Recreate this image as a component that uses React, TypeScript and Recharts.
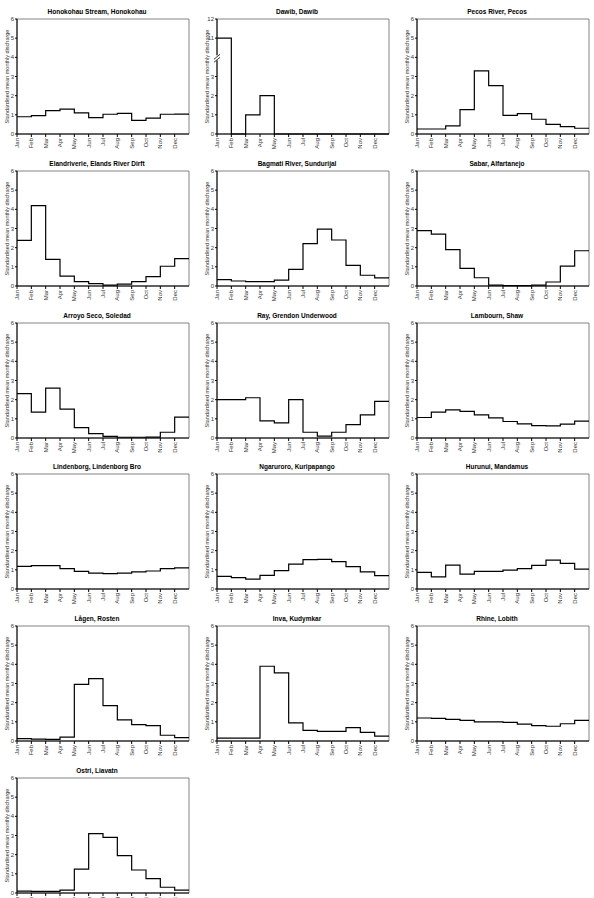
import React from "react";
import { LineChart, Line, XAxis, YAxis, ReferenceArea, ReferenceDot } from "recharts";

const MONTHS = ["Jan", "Feb", "Mar", "Apr", "May", "Jun", "Jul", "Aug", "Sep", "Oct", "Nov", "Dec"];
const MONTH_TICKS = [0, 1, 2, 3, 4, 5, 6, 7, 8, 9, 10, 11];
const DISCHARGE_TICKS = [0, 1, 2, 3, 4, 5, 6];
const DAWIB_TICKS = [0, 1, 2, 3, 11, 12];

// standardised mean monthly discharge, Jan..Dec
const honokohau = [0.9, 0.96, 1.22, 1.3, 1.1, 0.85, 1.03, 1.08, 0.71, 0.83, 1.03, 1.04];
const dawib = [11, 0, 1, 2, 0, 0, 0, 0, 0, 0, 0, 0];
const pecos = [0.26, 0.26, 0.42, 1.27, 3.29, 2.52, 0.97, 1.06, 0.77, 0.5, 0.38, 0.3];
const elandriverie = [2.38, 4.19, 1.39, 0.52, 0.23, 0.12, 0.05, 0.1, 0.23, 0.49, 1.03, 1.43];
const bagmati = [0.33, 0.26, 0.23, 0.23, 0.31, 0.87, 2.21, 2.97, 2.4, 1.08, 0.56, 0.42];
const sabar = [2.89, 2.71, 1.9, 0.92, 0.43, 0.05, 0.02, 0.02, 0.05, 0.21, 1.04, 1.84];
const arroyoSeco = [2.32, 1.35, 2.6, 1.51, 0.54, 0.23, 0.09, 0.04, 0.04, 0.05, 0.3, 1.09];
const ray = [2.0, 2.0, 2.1, 0.89, 0.79, 2.0, 0.3, 0.1, 0.3, 0.7, 1.21, 1.91];
const lambourn = [1.07, 1.35, 1.47, 1.39, 1.21, 1.05, 0.86, 0.74, 0.65, 0.63, 0.72, 0.88];
const lindenborg = [1.18, 1.22, 1.22, 1.06, 0.92, 0.83, 0.8, 0.83, 0.89, 0.94, 1.06, 1.1];
const ngaruroro = [0.66, 0.59, 0.52, 0.71, 0.96, 1.3, 1.53, 1.55, 1.43, 1.17, 0.89, 0.7];
const hurunui = [0.87, 0.63, 1.25, 0.78, 0.92, 0.92, 0.99, 1.06, 1.23, 1.51, 1.34, 1.04];
const lagen = [0.12, 0.1, 0.08, 0.2, 2.95, 3.25, 1.85, 1.1, 0.85, 0.8, 0.3, 0.18];
const inva = [0.15, 0.15, 0.15, 3.9, 3.55, 0.95, 0.55, 0.5, 0.5, 0.7, 0.45, 0.25];
const rhine = [1.2, 1.18, 1.13, 1.08, 1.0, 1.0, 0.97, 0.88, 0.8, 0.77, 0.9, 1.08];
const ostri = [0.1, 0.08, 0.08, 0.15, 1.25, 3.1, 2.9, 1.95, 1.2, 0.75, 0.3, 0.15];

const PANELS = [
  { title: "Honokohau Stream, Honokohau", values: honokohau },
  { title: "Dawib, Dawib", values: dawib, broken: true },
  { title: "Pecos River, Pecos", values: pecos },
  { title: "Elandriverie, Elands River Dirft", values: elandriverie },
  { title: "Bagmati River, Sundurijal", values: bagmati },
  { title: "Sabar, Alfartanejo", values: sabar },
  { title: "Arroyo Seco, Soledad", values: arroyoSeco },
  { title: "Ray, Grendon Underwood", values: ray },
  { title: "Lambourn, Shaw", values: lambourn },
  { title: "Lindenborg, Lindenborg Bro", values: lindenborg },
  { title: "Ngaruroro, Kuripapango", values: ngaruroro },
  { title: "Hurunui, Mandamus", values: hurunui },
  { title: "Lågen, Rosten", values: lagen },
  { title: "Inva, Kudymkar", values: inva },
  { title: "Rhine, Lobith", values: rhine },
  { title: "Ostri, Liavatn", values: ostri },
];

const Y_LABEL = "Standardised mean monthly discharge";
const PANEL_W = 200;
const PANEL_H = 152;
const ROW_STEP = 151.8;

// broken axis for Dawib: 11..12 is drawn just above 3
const squash = (v: number) => (v >= 11 ? v - 6 : v);
const unsquash = (v: number) => String(v >= 5 ? v + 6 : v);

function toSteps(values: number[], map: (v: number) => number) {
  const pts = values.map((v, i) => ({ month: i, q: map(v) }));
  // close the last step at the right edge
  pts.push({ month: 12, q: map(values[values.length - 1]) });
  return pts;
}

function MonthTick({ x, y, payload }: any) {
  return (
    <text
      transform={`translate(${x},${y}) rotate(-90)`}
      textAnchor="end"
      dominantBaseline="central"
      fontSize={6}
      fill="#333"
    >
      {MONTHS[payload.value]}
    </text>
  );
}

function BreakMark({ cx, cy }: any) {
  return (
    <g>
      <rect x={cx - 2} y={cy - 3} width={4} height={5} fill="#fff" />
      <line x1={cx - 3} y1={cy + 1} x2={cx + 3} y2={cy - 4} stroke="#000" strokeWidth={0.8} />
      <line x1={cx - 3} y1={cy + 4} x2={cx + 3} y2={cy - 1} stroke="#000" strokeWidth={0.8} />
    </g>
  );
}

function Panel({ title, values, broken, left, top }: any) {
  const map = broken ? squash : (v: number) => v;
  const ticks = broken ? DAWIB_TICKS.map(squash) : DISCHARGE_TICKS;
  return (
    <div style={{ position: "absolute", left, top, width: PANEL_W, height: PANEL_H }}>
      <div
        style={{
          position: "absolute",
          left: 0,
          top: 8,
          width: 194,
          textAlign: "center",
          fontWeight: 700,
          fontSize: 6.5,
          lineHeight: "8px",
          whiteSpace: "nowrap",
        }}
      >
        {title}
      </div>
      <LineChart
        width={PANEL_W}
        height={PANEL_H}
        data={toSteps(values, map)}
        margin={{ top: 19, right: 11, bottom: 0, left: 0 }}
      >
        <XAxis
          type="number"
          dataKey="month"
          domain={[0, 12]}
          ticks={MONTH_TICKS}
          interval={0}
          height={18}
          tickSize={3}
          tickMargin={1}
          tick={<MonthTick />}
          stroke="#000"
        />
        <YAxis
          type="number"
          domain={[0, 6]}
          ticks={ticks}
          interval={0}
          width={17}
          tickSize={2}
          tickMargin={1}
          tickFormatter={broken ? unsquash : (v: number) => String(v)}
          tick={{ fontSize: 6, fill: "#333" }}
          stroke="#000"
        />
        <ReferenceArea x1={0} x2={12} y1={0} y2={6} fill="none" stroke="#666" strokeWidth={0.8} />
        <Line
          type="stepAfter"
          dataKey="q"
          stroke="#000"
          strokeWidth={1.2}
          dot={false}
          activeDot={false}
          isAnimationActive={false}
        />
        {broken && <ReferenceDot x={0} y={3.95} ifOverflow="visible" shape={<BreakMark />} />}
      </LineChart>
      <svg width={12} height={PANEL_H} style={{ position: "absolute", left: 0, top: 0 }}>
        <text
          transform={`translate(6.5, 76.5) rotate(-90)`}
          textAnchor="middle"
          dominantBaseline="central"
          fontSize={5.5}
          fill="#333"
        >
          {Y_LABEL}
        </text>
      </svg>
    </div>
  );
}

export default function App() {
  return (
    <div
      style={{
        position: "absolute",
        left: 0,
        top: 0,
        width: 594,
        height: 898,
        overflow: "hidden",
        background: "#fff",
        fontFamily: "'Liberation Sans', Arial, sans-serif",
      }}
    >
      {PANELS.map((p, i) => (
        <Panel
          key={p.title}
          title={p.title}
          values={p.values}
          broken={p.broken}
          left={(i % 3) * PANEL_W}
          top={Math.round(Math.floor(i / 3) * ROW_STEP)}
        />
      ))}
    </div>
  );
}
